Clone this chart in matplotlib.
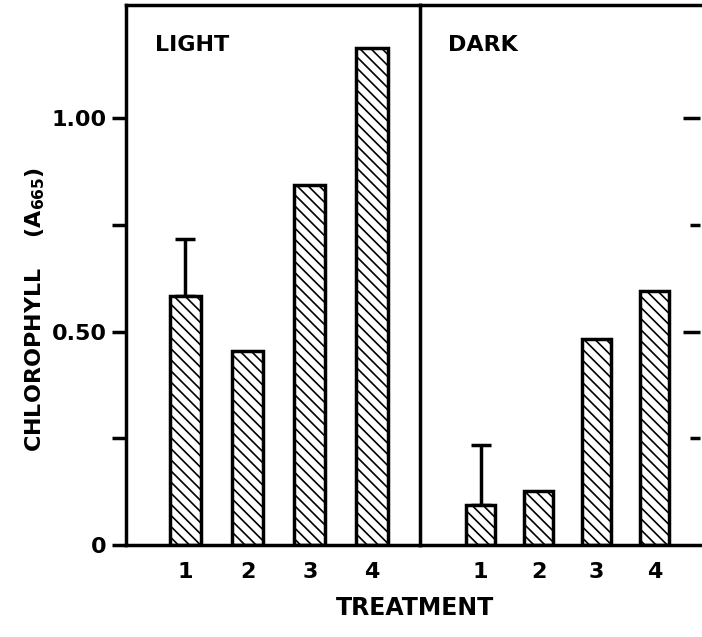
import numpy as np
import matplotlib.pyplot as plt

treatments = ['1', '2', '3', '4']
light = [0.583, 0.454, 0.843, 1.164]
light_err = [0.134, 0, 0, 0]
dark = [0.094, 0.126, 0.482, 0.595]
dark_err = [0.140, 0, 0, 0]

plt.rcParams['font.family'] = ['DejaVu Sans']
plt.rcParams['font.weight'] = 'bold'
plt.rcParams['hatch.linewidth'] = 1.2

fig = plt.figure(figsize=(7.02, 6.37), dpi=100)
ax1 = fig.add_axes([126/702, 1-545/637, 294/702, 540/637])
ax2 = fig.add_axes([420/702, 1-545/637, 280/702, 540/637])
ax2.patch.set_visible(False)

x = np.arange(1, 5)
for ax, vals, errs, name in [(ax1, light, light_err, 'LIGHT'), (ax2, dark, dark_err, 'DARK')]:
    ax.bar(x, vals, width=0.5, color='white', edgecolor='black', linewidth=2.5,
           hatch='\\\\\\', zorder=2)
    for xi, v, e in zip(x, vals, errs):
        if e > 0:
            ax.errorbar(xi, v, yerr=[[0], [e]], color='black', elinewidth=2.5,
                        capsize=7, capthick=2.5, zorder=1)
    ax.set_ylim(0, 1.265)
    ax.set_xticks(x)
    ax.set_xticklabels(treatments, fontsize=16, fontweight='bold')
    ax.tick_params(axis='x', length=0, pad=12)
    ax.text(0.1, 0.915, name, transform=ax.transAxes, fontsize=16, fontweight='bold')
    for s in ax.spines.values():
        s.set_linewidth(2.5)

ax1.set_xlim(0.05, 4.77)
ax2.set_xlim(-0.05, 4.79)

ax1.set_yticks([0, 0.5, 1.0])
ax1.set_yticks([0.25, 0.75], minor=True)
ax1.set_yticklabels(['0', '0.50', '1.00'], fontsize=16, fontweight='bold')
ax1.tick_params(axis='y', which='both', length=10, width=2.5, direction='out', pad=4)

ax2.spines['left'].set_visible(False)
ax2.spines['right'].set_visible(False)
ax2.yaxis.tick_right()
ax2.set_yticks([0.5, 1.0])
ax2.set_yticks([0.25, 0.75], minor=True)
ax2.set_yticklabels([])
ax2.tick_params(axis='y', which='major', length=12, width=2.5, direction='in')
ax2.tick_params(axis='y', which='minor', length=7, width=2.5, direction='in')

fig.text(415/702, 1-608/637, 'TREATMENT', ha='center', va='center', fontsize=17, fontweight='bold')
fig.text(35/702, 1-310/637, 'CHLOROPHYLL    (A$_{\\mathbf{665}}$)', rotation=90,
         ha='center', va='center', fontsize=16, fontweight='bold')

fig.savefig('out.png', dpi=100)
